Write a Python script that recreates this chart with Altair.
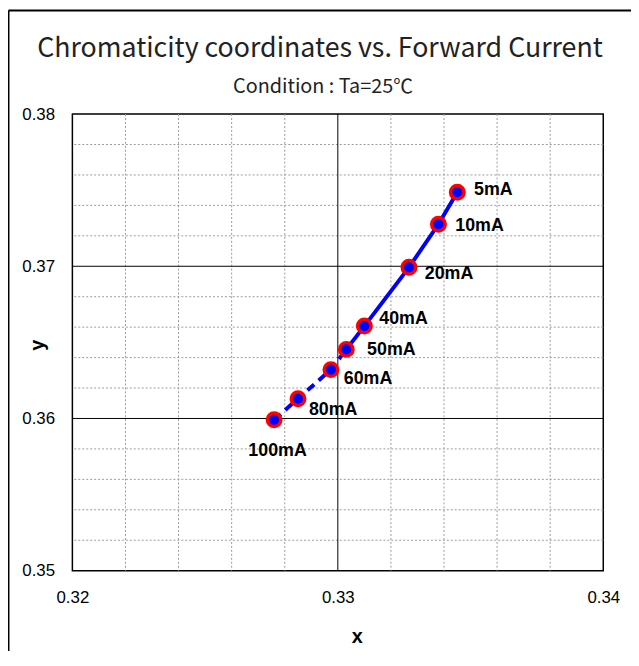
import altair as alt
import pandas as pd

# ---- data ----
CURRENTS = ["5mA", "10mA", "20mA", "40mA", "50mA", "60mA", "80mA", "100mA"]
CIE_X = [0.33450, 0.33379, 0.33268, 0.33100, 0.33032, 0.32974, 0.32850, 0.32760]
CIE_Y = [0.37486, 0.37276, 0.36993, 0.36607, 0.36454, 0.36321, 0.36130, 0.35991]
SOLID_SEGMENT = ["5mA", "10mA", "20mA", "40mA", "50mA"]
DASHED_SEGMENT = ["50mA", "60mA", "80mA", "100mA"]

X_TICKS = [0.32, 0.33, 0.34]
Y_TICKS = [0.35, 0.36, 0.37, 0.38]
X_MINOR = [0.322, 0.324, 0.326, 0.328, 0.332, 0.334, 0.336, 0.338]
Y_MINOR = [0.352, 0.354, 0.356, 0.358, 0.362, 0.364, 0.366, 0.368,
           0.372, 0.374, 0.376, 0.378]
X_MAJOR = [0.33]
Y_MAJOR = [0.36, 0.37]

TITLE = "Chromaticity coordinates vs. Forward Current"
SUBTITLE = "Condition : Ta=25℃"

# ---- styling (label offsets in pixels) ----
LABEL_OFFSETS = {
    "5mA": (17, -2), "10mA": (17, 2), "20mA": (16, 7), "40mA": (15, -7),
    "50mA": (21, 1), "60mA": (13, 10), "80mA": (11, 11), "100mA": (-26, 32),
}
LATIN = "Liberation Sans"
TITLE_FONT = "Noto Sans CJK JP"

df = pd.DataFrame({"current": CURRENTS, "x": CIE_X, "y": CIE_Y})

x_scale = alt.Scale(domain=[0.32, 0.34], nice=False, zero=False)
y_scale = alt.Scale(domain=[0.35, 0.38], nice=False, zero=False)

AX = alt.Axis(
    values=X_TICKS, format=".2f", title="x", grid=False, domain=False, ticks=False,
    labelFont=LATIN, labelFontSize=17, labelColor="black", labelPadding=19,
    labelFlush=False,
    titleFont=LATIN, titleFontSize=20, titleFontWeight="bold", titleColor="black",
    titleX=287, titleY=67, titleBaseline="middle", titleAlign="center")
AY = alt.Axis(
    values=Y_TICKS, format=".2f", title="y", grid=False, domain=False, ticks=False,
    labelFont=LATIN, labelFontSize=17, labelColor="black", labelPadding=18,
    labelFlush=False,
    titleFont=LATIN, titleFontSize=20, titleFontWeight="bold", titleColor="black",
    titleX=-35, titleY=233, titleBaseline="middle", titleAlign="center")


def grid(values, channel, color, dash, width):
    d = pd.DataFrame({"v": values})
    kw = {"strokeDash": dash} if dash else {}
    mark = alt.Chart(d).mark_rule(color=color, strokeWidth=width, **kw)
    if channel == "x":
        return mark.encode(x=alt.X("v:Q", scale=x_scale, axis=AX))
    return mark.encode(y=alt.Y("v:Q", scale=y_scale, axis=AY))


layers = [
    grid(X_MINOR, "x", "#9a9a9a", [2, 2], 1),
    grid(Y_MINOR, "y", "#9a9a9a", [2, 2], 1),
    grid(X_MAJOR, "x", "#000000", None, 1),
    grid(Y_MAJOR, "y", "#000000", None, 1),
]

enc_x = alt.X("x:Q", scale=x_scale, axis=AX)
enc_y = alt.Y("y:Q", scale=y_scale, axis=AY)

solid = alt.Chart(df).transform_filter(
    alt.FieldOneOfPredicate(field="current", oneOf=SOLID_SEGMENT)
).mark_line(color="#0000ff", strokeWidth=4).encode(x=enc_x, y=enc_y)

dashed = alt.Chart(df).transform_filter(
    alt.FieldOneOfPredicate(field="current", oneOf=DASHED_SEGMENT)
).mark_line(color="#0000ff", strokeWidth=4, strokeDash=[9, 6]).encode(x=enc_x, y=enc_y)

points = alt.Chart(df).mark_point(
    shape="circle", filled=True, fill="#0000ff", stroke="#ff0000",
    strokeWidth=3.5, size=185, opacity=1, fillOpacity=1, strokeOpacity=1,
).encode(x=enc_x, y=enc_y)

layers += [solid, dashed, points]

for cur in CURRENTS:
    dx, dy = LABEL_OFFSETS[cur]
    layers.append(
        alt.Chart(df).transform_filter(alt.datum.current == cur).mark_text(
            align="left", baseline="middle", dx=dx, dy=dy, font=LATIN,
            fontSize=18, fontWeight="bold", color="black",
        ).encode(x=enc_x, y=enc_y, text="current:N")
    )

titles = pd.DataFrame({"t": [TITLE]})
subtitles = pd.DataFrame({"t": [SUBTITLE]})
layers.append(alt.Chart(titles).mark_text(
    align="center", baseline="alphabetic", font=TITLE_FONT, fontSize=27, color="#222222"
).encode(x=alt.value(250), y=alt.value(-58), text="t:N"))
layers.append(alt.Chart(subtitles).mark_text(
    align="center", baseline="alphabetic", font=TITLE_FONT, fontSize=20, color="#222222"
).encode(x=alt.value(253), y=alt.value(-21), text="t:N"))

# outer frame (top and left edges visible in the reference)
frame = pd.DataFrame({"k": [0]})
layers.append(alt.Chart(frame).mark_rule(color="black", strokeWidth=2).encode(
    x=alt.value(-64.5), x2=alt.value(700), y=alt.value(-104.5)))
layers.append(alt.Chart(frame).mark_rule(color="black", strokeWidth=2).encode(
    x=alt.value(-64.5), y=alt.value(-104.5), y2=alt.value(700)))

chart = alt.layer(*layers).properties(
    width=536, height=461,
    padding={"left": 65, "top": 104, "right": 28, "bottom": 78},
    autosize=alt.AutoSizeParams(type="none"),
).configure_view(stroke="black", strokeWidth=1.5)

chart.save("out.html", embed_options={"renderer": "svg", "actions": False})
